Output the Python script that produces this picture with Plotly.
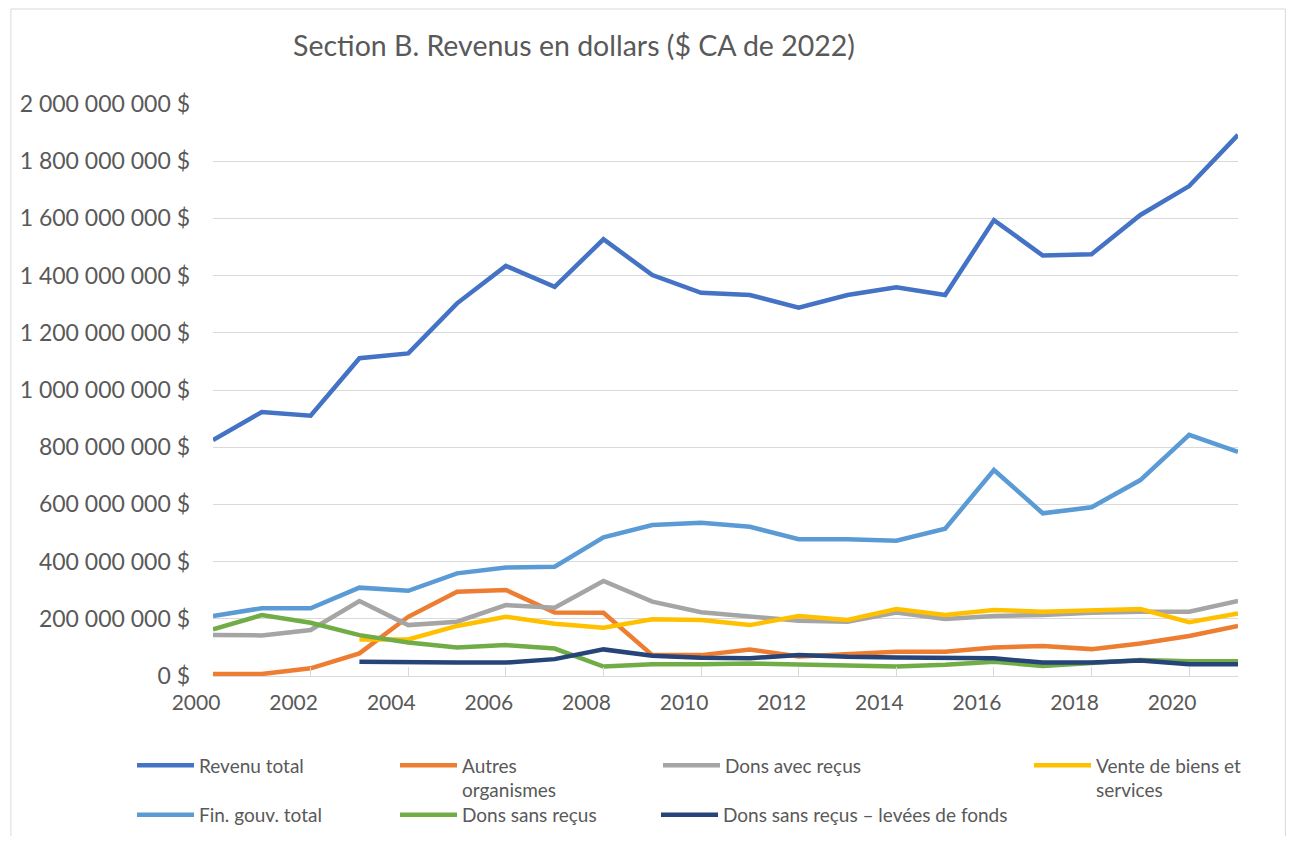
import plotly.graph_objects as go

years = list(range(2000, 2022))

revenu_total = [825e6, 923e6, 910e6, 1111e6, 1128e6, 1303e6, 1434e6, 1361e6, 1527e6, 1402e6, 1340e6,
                1332e6, 1288e6, 1332e6, 1359e6, 1332e6, 1594e6, 1470e6, 1475e6, 1612e6, 1713e6, 1892e6]
autres_organismes = [7e6, 7e6, 27e6, 79e6, 207e6, 295e6, 301e6, 222e6, 221e6, 73e6, 73e6,
                     93e6, 68e6, 77e6, 85e6, 85e6, 100e6, 105e6, 94e6, 114e6, 140e6, 175e6]
dons_avec_recus = [143e6, 142e6, 161e6, 262e6, 178e6, 190e6, 248e6, 239e6, 332e6, 260e6, 223e6,
                   207e6, 193e6, 190e6, 222e6, 199e6, 210e6, 213e6, 221e6, 225e6, 225e6, 262e6]
vente_biens = [None, None, None, 128e6, 128e6, 175e6, 207e6, 183e6, 169e6, 198e6, 196e6,
               178e6, 210e6, 196e6, 234e6, 213e6, 231e6, 225e6, 231e6, 234e6, 188e6, 219e6]
fin_gouv = [210e6, 237e6, 237e6, 309e6, 298e6, 359e6, 379e6, 382e6, 485e6, 528e6, 536e6,
            522e6, 478e6, 478e6, 473e6, 515e6, 720e6, 569e6, 590e6, 685e6, 843e6, 784e6]
dons_sans_recus = [163e6, 213e6, 186e6, 143e6, 117e6, 100e6, 108e6, 96e6, 33e6, 41e6, 41e6,
                   44e6, 40e6, 36e6, 33e6, 39e6, 50e6, 35e6, 44e6, 56e6, 52e6, 52e6]
dons_levees = [None, None, None, 50e6, 47e6, 47e6, 47e6, 59e6, 93e6, 71e6, 64e6,
               62e6, 73e6, 67e6, 65e6, 62e6, 62e6, 47e6, 47e6, 54e6, 41e6, 41e6]

# (name, values, colour, legend box) - legend boxes mimic Excel's 4-column legend
series = [
    ("Revenu total", revenu_total, "#4472C4", "legend"),
    ("Autres<br>organismes", autres_organismes, "#ED7D31", "legend"),
    ("Dons avec reçus", dons_avec_recus, "#A5A5A5", "legend"),
    ("Vente de biens et<br>services", vente_biens, "#FFC000", "legend3"),
    ("Fin. gouv. total", fin_gouv, "#5B9BD5", "legend2"),
    ("Dons sans reçus", dons_sans_recus, "#70AD47", "legend2"),
    ("Dons sans reçus – levées de fonds", dons_levees, "#264478", "legend4"),
]

fig = go.Figure()
for name, vals, color, leg in series:
    fig.add_trace(go.Scatter(x=years, y=vals, name=name, mode="lines", legend=leg,
                             line=dict(color=color, width=4.5)))

# figure sits 8px in from the page corner (body margin)
W, H = 1278, 828
L, R, T, B = 203, 48, 96, 160
PW, PH = W - L - R, H - T - B

leg_common = dict(orientation="h", xref="container", yref="container", xanchor="left", yanchor="middle",
                  valign="top", itemwidth=57, entrywidthmode="pixels",
                  font=dict(size=19, color="#595959"), bgcolor="rgba(0,0,0,0)", tracegroupgap=0)

fig.update_layout(
    width=W, height=H,
    margin=dict(l=L, r=R, t=T, b=B),
    paper_bgcolor="white", plot_bgcolor="white",
    font=dict(family="Lato", color="#595959"),
    separators=", ",
    title=dict(text="Section B. Revenus en dollars ($ CA de 2022)", xref="container", yref="container",
               x=566 / W, y=1 - 38 / H, xanchor="center", yanchor="middle",
               font=dict(size=28.5, color="#595959")),
    xaxis=dict(range=[2000, 2021], tickvals=list(range(2000, 2021, 2)), ticks="inside", ticklen=9,
               tickcolor="#D9D9D9", showline=True, linecolor="#D9D9D9", linewidth=1, showgrid=False,
               zeroline=False, ticklabelshift=-17, ticklabelstandoff=8, tickfont=dict(size=21, color="#595959")),
    yaxis=dict(range=[0, 2e9], dtick=2e8, tickformat=",d", ticksuffix=" $", gridcolor="#D9D9D9",
               gridwidth=1, zeroline=False, showline=False, ticklabelstandoff=22,
               tickfont=dict(size=23, color="#595959")),
    legend=dict(x=124 / W, y=1 - 770 / H, entrywidth=191, **leg_common),
    legend2=dict(x=124 / W, y=1 - 807 / H, entrywidth=191, **leg_common),
    legend3=dict(x=1021 / W, y=1 - 770 / H, entrywidth=0, **leg_common),
    legend4=dict(x=648 / W, y=1 - 807 / H, entrywidth=0, **leg_common),
    shapes=[dict(type="rect", xref="paper", yref="paper",
                 x0=(0.5 - L) / PW, x1=(W - 0.5 - L) / PW,
                 y0=(H - B - H - 5) / PH, y1=(H - B - 1) / PH,
                 line=dict(color="#D9D9D9", width=1), fillcolor="rgba(0,0,0,0)", layer="below")],
)

fig.write_html("out.html")
